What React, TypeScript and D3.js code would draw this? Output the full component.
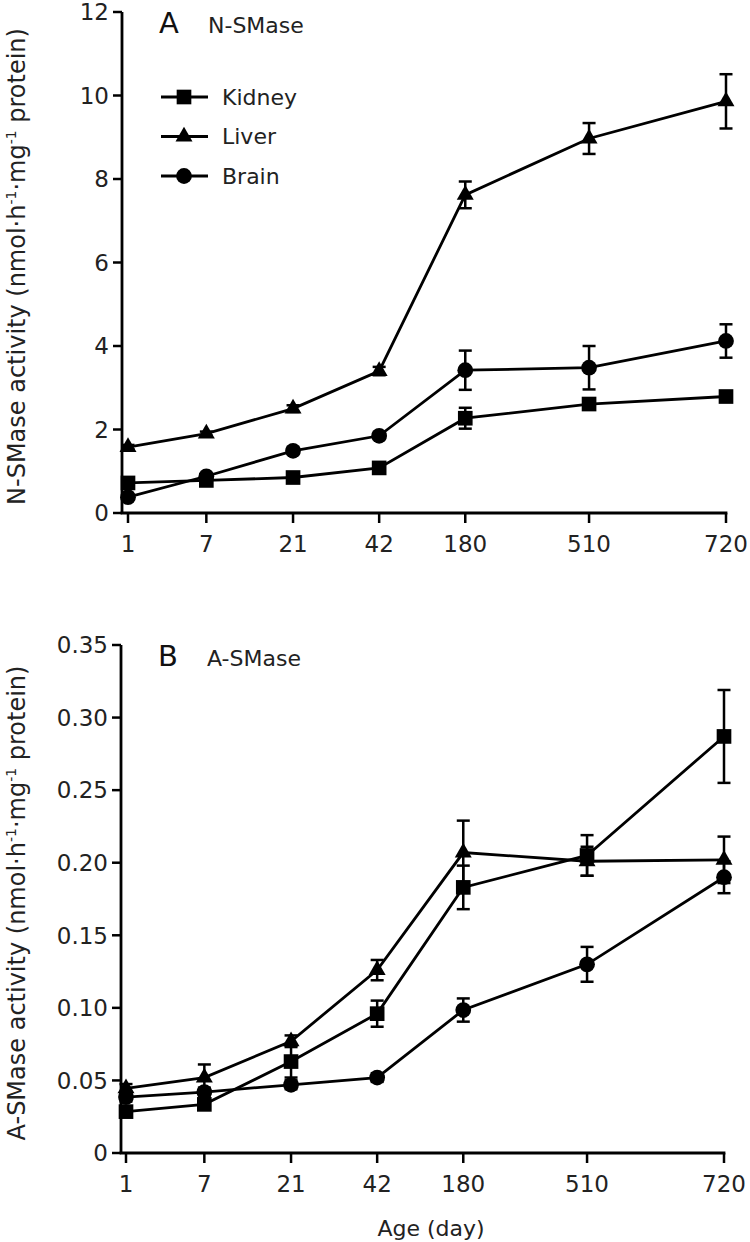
import React from 'react';
import * as d3 from 'd3';

// ---- Data ----
const ages = ['1', '7', '21', '42', '180', '510', '720'];
// relative spacing of the age categories along the x axis (layout, non-uniform as in the source)
const agePos = [0, 0.131, 0.276, 0.42, 0.564, 0.771, 1];
const seriesNames = ['Kidney', 'Liver', 'Brain'];

// Panel A: N-SMase
const nKidney = [0.72, 0.78, 0.85, 1.08, 2.27, 2.61, 2.79];
const nKidneyErr = [0.05, 0.05, 0.05, 0.06, 0.25, 0.1, 0.1];
const nLiver = [1.58, 1.9, 2.5, 3.4, 7.62, 8.97, 9.86];
const nLiverErr = [0.05, 0.05, 0.08, 0.1, 0.32, 0.37, 0.65];
const nBrain = [0.38, 0.88, 1.49, 1.85, 3.42, 3.48, 4.12];
const nBrainErr = [0.05, 0.05, 0.08, 0.08, 0.47, 0.52, 0.4];
const nTicks = [0, 2, 4, 6, 8, 10, 12];
const nTickLabels = ['0', '2', '4', '6', '8', '10', '12'];

// Panel B: A-SMase
const aKidney = [0.0285, 0.0335, 0.063, 0.096, 0.183, 0.205, 0.287];
const aKidneyErr = [0.003, 0.003, 0.011, 0.009, 0.015, 0.014, 0.032];
const aLiver = [0.0445, 0.052, 0.077, 0.126, 0.207, 0.201, 0.202];
const aLiverErr = [0.003, 0.009, 0.004, 0.007, 0.022, 0.01, 0.016];
const aBrain = [0.0385, 0.042, 0.047, 0.052, 0.0985, 0.13, 0.19];
const aBrainErr = [0.003, 0.003, 0.003, 0.003, 0.008, 0.012, 0.011];
const aTicks = [0, 0.05, 0.1, 0.15, 0.2, 0.25, 0.3, 0.35];
const aTickLabels = ['0', '0.05', '0.10', '0.15', '0.20', '0.25', '0.30', '0.35'];

const FONT = 'DejaVu Sans, sans-serif';
const symbolTypes = [d3.symbolSquare, d3.symbolTriangle, d3.symbolCircle];
const symbolSizes = [215, 125, 195];

type PanelProps = {
  axisLeft: number;
  x0: number;
  x1: number;
  yTop: number;
  yBottom: number;
  yMax: number;
  ticks: number[];
  tickLabels: string[];
  values: number[][];
  errors: number[][];
  letter: string;
  title: string;
  yTitle: string;
  showLegend: boolean;
};

function Panel(p: PanelProps) {
  const x = d3
    .scaleLinear()
    .domain(d3.range(ages.length))
    .range(agePos.map((f) => p.x0 + f * (p.x1 - p.x0)));
  const y = d3.scaleLinear().domain([0, p.yMax]).range([p.yBottom, p.yTop]);
  const line = d3
    .line<number>()
    .x((_, i) => x(i))
    .y((d) => y(d));
  const cap = 6.5;
  const yMid = (p.yTop + p.yBottom) / 2;
  return (
    <g>
      {/* axes */}
      <line x1={p.axisLeft} x2={p.axisLeft} y1={p.yTop} y2={p.yBottom} stroke="#000" strokeWidth={2.8} />
      <line x1={p.axisLeft - 1.4} x2={p.x1 + 1.4} y1={p.yBottom} y2={p.yBottom} stroke="#000" strokeWidth={2.8} />
      {p.ticks.map((t, i) => (
        <g key={'yt' + i}>
          <line x1={p.axisLeft - 9} x2={p.axisLeft} y1={y(t)} y2={y(t)} stroke="#000" strokeWidth={2.5} />
          <text x={p.axisLeft - 13} y={y(t)} dy="0.36em" textAnchor="end" fontFamily={FONT} fontSize={23} fill="#222">
            {p.tickLabels[i]}
          </text>
        </g>
      ))}
      {ages.map((a, i) => (
        <g key={'xt' + i}>
          <line x1={x(i)} x2={x(i)} y1={p.yBottom} y2={p.yBottom + 10} stroke="#000" strokeWidth={2.5} />
          <text x={x(i)} y={p.yBottom + 39} textAnchor="middle" fontFamily={FONT} fontSize={23} fill="#222">
            {a}
          </text>
        </g>
      ))}
      {/* y title */}
      <text
        transform={`translate(17,${yMid + 4}) rotate(-90)`}
        textAnchor="middle"
        dy="0.35em"
        fontFamily={FONT}
        fontSize={24}
        fill="#222"
      >
        <tspan>{p.yTitle + ' activity (nmol·h'}</tspan>
        <tspan dy={-9} fontSize={14}>-1</tspan>
        <tspan dy={9}>·mg</tspan>
        <tspan dy={-9} fontSize={14}>-1</tspan>
        <tspan dy={9}> protein)</tspan>
      </text>
      {/* panel labels */}
      <text x={p.axisLeft + 37} y={p.yTop + 21} fontFamily={FONT} fontSize={29} fill="#111">
        {p.letter}
      </text>
      <text x={p.axisLeft + 86} y={p.yTop + 21} fontFamily={FONT} fontSize={22} fill="#222">
        {p.title}
      </text>
      {/* series */}
      {p.values.map((vals, s) => (
        <path key={'l' + s} d={line(vals) || ''} fill="none" stroke="#000" strokeWidth={2.8} />
      ))}
      {p.values.map((vals, s) =>
        vals.map((v, i) => {
          const e = p.errors[s][i];
          const yt = y(v + e);
          const yb = y(v - e);
          return (
            <g key={'e' + s + '-' + i} stroke="#000" strokeWidth={2.5}>
              <line x1={x(i)} x2={x(i)} y1={yt} y2={yb} />
              <line x1={x(i) - cap} x2={x(i) + cap} y1={yt} y2={yt} />
              <line x1={x(i) - cap} x2={x(i) + cap} y1={yb} y2={yb} />
            </g>
          );
        })
      )}
      {p.values.map((vals, s) =>
        vals.map((v, i) => (
          <path
            key={'m' + s + '-' + i}
            transform={`translate(${x(i)},${y(v)})`}
            d={d3.symbol().type(symbolTypes[s]).size(symbolSizes[s])() || ''}
            fill="#000"
          />
        ))
      )}
      {/* legend */}
      {p.showLegend &&
        seriesNames.map((n, s) => {
          const ly = p.yTop + 85 + s * 39.5;
          const lx = p.axisLeft + 62;
          return (
            <g key={'lg' + s}>
              <line x1={lx - 23} x2={lx + 24} y1={ly} y2={ly} stroke="#000" strokeWidth={2.8} />
              <path
                transform={`translate(${lx},${ly})`}
                d={d3.symbol().type(symbolTypes[s]).size(symbolSizes[s])() || ''}
                fill="#000"
              />
              <text x={lx + 38} y={ly} dy="0.36em" fontFamily={FONT} fontSize={22} fill="#222">
                {n}
              </text>
            </g>
          );
        })}
    </g>
  );
}

export default function App() {
  return (
    <svg
      width={750}
      height={1242}
      viewBox="0 0 750 1242"
      style={{ position: 'absolute', left: 0, top: 0, background: '#fff' }}
    >
      <rect width={750} height={1242} fill="#fff" />
      <Panel
        axisLeft={122}
        x0={128}
        x1={726}
        yTop={12}
        yBottom={513}
        yMax={12}
        ticks={nTicks}
        tickLabels={nTickLabels}
        values={[nKidney, nLiver, nBrain]}
        errors={[nKidneyErr, nLiverErr, nBrainErr]}
        letter="A"
        title="N-SMase"
        yTitle="N-SMase"
        showLegend={true}
      />
      <Panel
        axisLeft={121}
        x0={126}
        x1={724}
        yTop={645}
        yBottom={1153}
        yMax={0.35}
        ticks={aTicks}
        tickLabels={aTickLabels}
        values={[aKidney, aLiver, aBrain]}
        errors={[aKidneyErr, aLiverErr, aBrainErr]}
        letter="B"
        title="A-SMase"
        yTitle="A-SMase"
        showLegend={false}
      />
      <text x={431} y={1236} textAnchor="middle" fontFamily={FONT} fontSize={22} fill="#222">
        Age (day)
      </text>
    </svg>
  );
}
